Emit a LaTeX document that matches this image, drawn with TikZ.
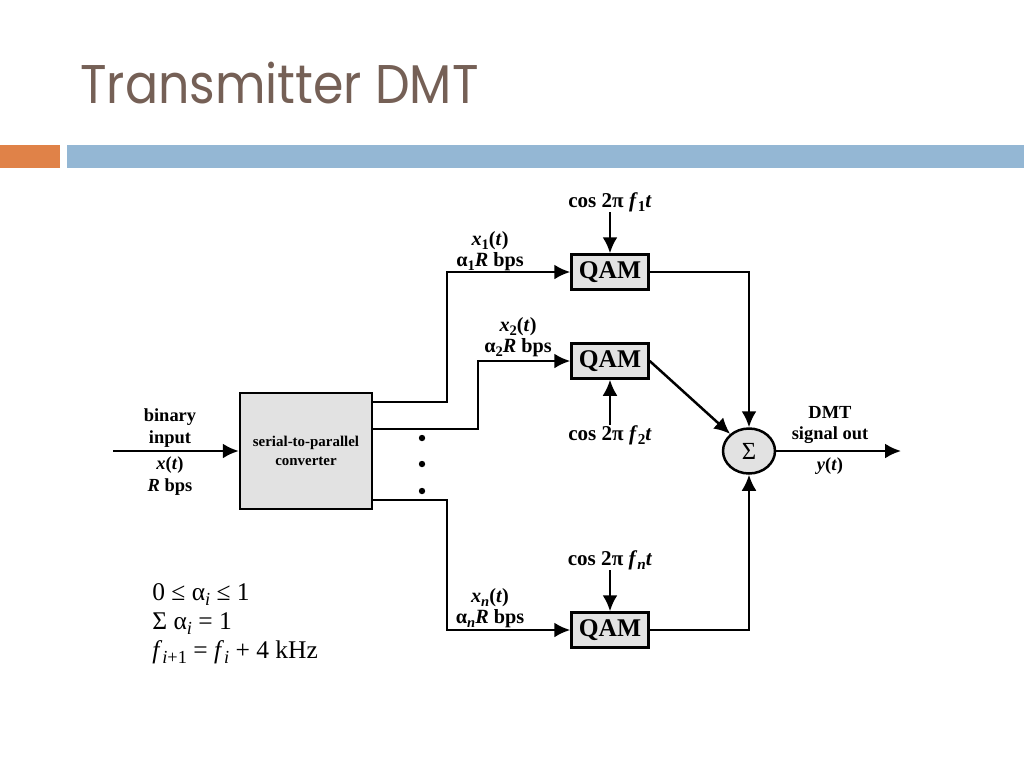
\documentclass[tikz,border=0pt]{standalone}
\usepackage{fontspec}
\setmainfont{Liberation Serif}
\newfontfamily\titlefont{Poppins}
\usetikzlibrary{arrows.meta,calc,positioning,shapes.geometric}

\definecolor{titlebrown}{RGB}{117,96,86}
\definecolor{barorange}{RGB}{224,130,72}
\definecolor{barblue}{RGB}{148,183,212}
\definecolor{boxgray}{RGB}{226,226,226}

% lowered index, as in the scanned labels
\newcommand{\lo}[1]{\raisebox{-0.4ex}{\scalebox{0.72}{#1}}}

\begin{document}
\begin{tikzpicture}[x=0.02cm,y=-0.02cm]

    \tikzstyle{block}+=[
        draw,
        line width = 0.5mm,
        fill=boxgray,
        inner sep=0pt
    ]
    \tikzstyle{spbox}+=[
        block,
        minimum width=2.64cm,
        minimum height=2.32cm,
        align=center,
        font=\bfseries\fontsize{8.5}{10.5}\selectfont
    ]
    \tikzstyle{qam}+=[
        block,
        minimum width=1.54cm,
        minimum height=0.7cm,
        font=\bfseries\fontsize{14.5}{16}\selectfont
    ]
    \tikzstyle{sum}+=[
        block,
        ellipse,
        minimum width=1.04cm,
        minimum height=0.9cm,
        font=\fontsize{14}{16}\selectfont
    ]
    \tikzstyle{arrow}+=[
        -{Latex[length=3.2mm,width=3mm]},
        line width = 0.5mm
    ]
    \tikzstyle{lbl}+=[
        inner sep=0pt,
        align=center,
        font=\bfseries\fontsize{10.5}{12.5}\selectfont
    ]
    \tikzstyle{rate}+=[
        lbl,
        font=\bfseries\fontsize{11.5}{12}\selectfont
    ]
    \tikzstyle{carrier}+=[
        inner sep=0pt,
        font=\bfseries\fontsize{12}{14}\selectfont
    ]

    \useasboundingbox (0,0) rectangle (1024,768);

    % ----------------------------------------------------------------------------
    \fill[barorange] (0,145) rectangle (60,168);
    \fill[barblue] (67,145) rectangle (1024,168);
    \node[anchor=base west, inner sep=0pt, text=titlebrown,
        font=\titlefont\fontsize{31}{34}\selectfont] (title) at (80,103)
        {\scalebox{0.9}[1]{Transmitter DMT}};

    % ----------------------------------------------------------------------------
    \node[spbox] (sp) at (306,451) {serial-to-parallel\\converter};
    \node[qam] (qam1) at (610,272) {QAM};
    \node[qam] (qam2) at (610,361) {QAM};
    \node[qam] (qamn) at (610,630) {QAM};
    \node[sum] (sum) at (749,451) {Σ};

    \coordinate (in) at (113,451);
    \coordinate (out) at (901,451);

    % ----------------------------------------------------------------------------
    \node[carrier] (cos1) at (610,202) {cos 2π \textit{f}\lo{1}\textit{t}};
    \node[carrier] (cos2) at (610,435) {cos 2π \textit{f}\lo{2}\textit{t}};
    \node[carrier] (cosn) at (610,560) {cos 2π \textit{f}\lo{\textit{n}}\textit{t}};

    \node[lbl] (binlbl) at (170,428) {binary\\input};
    \node[lbl] (xlbl) at (170,476) {\textit{x}(\textit{t})\\\textit{R} bps};
    \node[rate] (x1lbl) at (490,251) {\textit{x}\lo{1}(\textit{t})\\α\lo{1}\textit{R} bps};
    \node[rate] (x2lbl) at (518,337) {\textit{x}\lo{2}(\textit{t})\\α\lo{2}\textit{R} bps};
    \node[rate] (xnlbl) at (490,608) {\textit{x}\lo{\textit{n}}(\textit{t})\\α\lo{\textit{n}}\textit{R} bps};
    \node[lbl] (outlbl) at (830,425) {DMT\\signal out};
    \node[lbl] (ylbl) at (830,466) {\textit{y}(\textit{t})};

    % ----------------------------------------------------------------------------
    \draw[arrow] (in) -- (sp.west);
    \draw[arrow] (sp.east |- 0,402) -- (447,402) |- (qam1.west);
    \draw[arrow] (sp.east |- 0,429) -- (478,429) |- (qam2.west);
    \draw[arrow] (sp.east |- 0,500) -- (447,500) |- (qamn.west);
    \foreach \y in {438,464,491}
        \fill (422,\y) circle (3.2);

    \draw[arrow] (cos1) -- (qam1.north);
    \draw[arrow] (cos2) -- (qam2.south);
    \draw[arrow] (cosn) -- (qamn.north);

    \draw[arrow] (qam1.east) -| (sum.north);
    \draw[arrow] (qam2.east) -- (sum);
    \draw[arrow] (qamn.east) -| (sum.south);
    \draw[arrow] (sum.east) -- (out);

    % ----------------------------------------------------------------------------
    \node[anchor=west, inner sep=0pt, align=left, font=\fontsize{14.5}{16.5}\selectfont]
        (notes) at (152,624) {0 ≤ α\lo{\textit{i}} ≤ 1\\Σ α\lo{\textit{i}} = 1\\\textit{f}\lo{\textit{i}+1} = \textit{f}\lo{\textit{i}} + 4 kHz};

\end{tikzpicture}
\end{document}
